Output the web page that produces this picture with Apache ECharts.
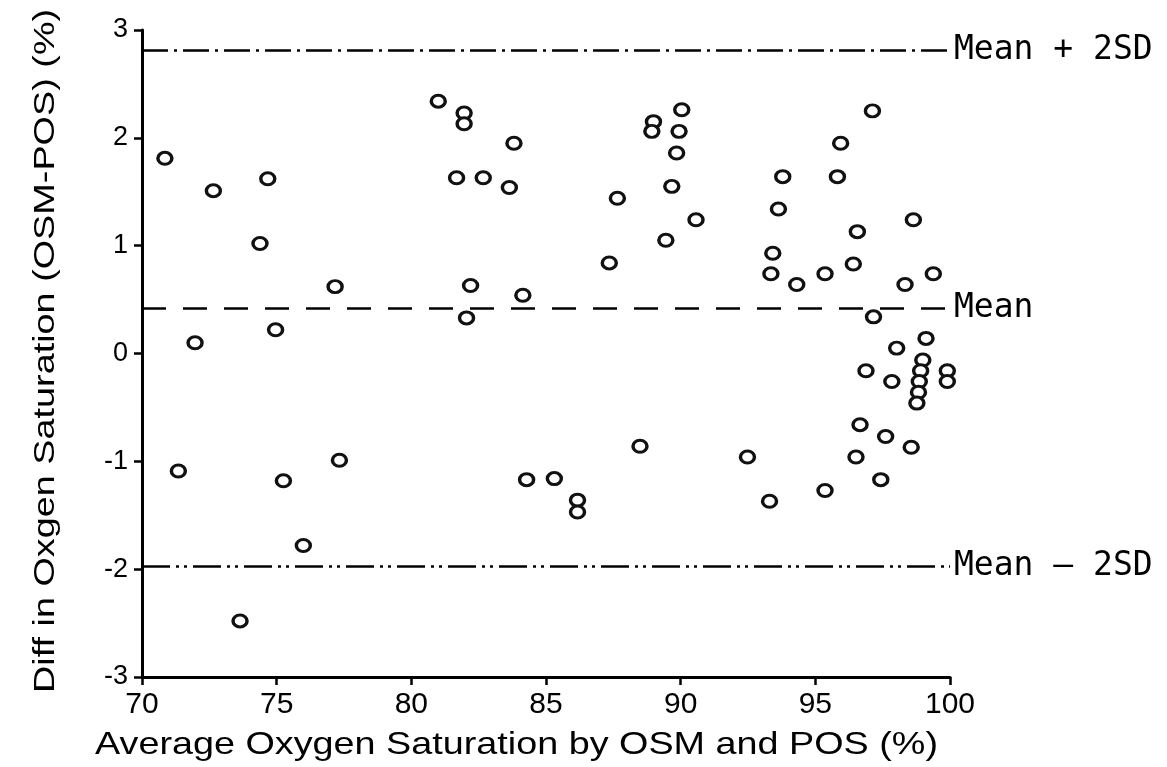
<!DOCTYPE html>
<html>
<head>
<meta charset="utf-8">
<script src="https://cdn.jsdelivr.net/npm/echarts@6/dist/echarts.min.js"></script>
<style>
html,body{margin:0;padding:0;background:#fff;}
#chart{width:1167px;height:767px;}
</style>
</head>
<body>
<div id="chart"></div>
<script>
// Average oxygen saturation (x) and difference OSM-POS (y)
const avgSat = [
  70.85, 72.65, 74.67, 74.38, 77.17, 71.97, 74.96, 71.35, 75.25, 77.33, 75.99, 73.64,
  81.0, 81.96, 81.96, 81.68, 82.67, 83.81, 83.64, 82.2, 82.05, 84.14,
  84.28, 85.31, 86.17, 86.17, 87.35, 87.65, 88.49,
  88.99, 88.93, 90.04, 89.94, 89.85, 89.67, 90.57, 89.45,
  92.48, 93.3, 93.42, 93.35, 93.63, 93.79, 94.31,
  95.36, 95.82, 95.94, 95.36, 96.41, 96.56, 97.12,
  97.16, 96.88, 97.84, 98.02, 96.66, 97.61, 96.51, 97.43, 98.56,
  98.33, 98.64, 99.38, 99.11,
  98.99, 98.91, 98.86, 98.83, 98.77, 99.9, 99.9
];
const diffSat = [
  1.81, 1.51, 1.62, 1.02, 0.62, 0.10, 0.22, -1.09, -1.18, -0.99, -1.78, -2.48,
  2.34, 2.23, 2.13, 1.63, 1.63, 1.95, 1.54, 0.63, 0.33, 0.54,
  -1.17, -1.16, -1.36, -1.47, 0.84, 1.44, -0.86,
  2.15, 2.06, 2.26, 2.06, 1.86, 1.55, 1.24, 1.05,
  -0.96, -1.37, 0.93, 0.74, 1.34, 1.64, 0.64,
  0.74, 1.64, 1.95, -1.27, 0.83, 1.13, 2.25,
  0.34, -0.16, -0.26, 0.05, -0.66, -0.77, -0.96, -1.17, -0.87,
  0.64, 1.24, 0.74, 0.14,
  -0.06, -0.16, -0.26, -0.36, -0.46, -0.16, -0.26
];
const meanDiff = 0.42;
const twoSD = 2.39;
const limitLabels = ['Mean + 2SD', 'Mean', 'Mean \u2013 2SD'];
const xTicks = { min: 70, max: 100, interval: 5 };
const yTicks = { min: -3, max: 3, interval: 1 };
const xTitle = 'Average Oxygen Saturation by OSM and POS (%)';
const yTitle = 'Diff in Oxgen Saturation (OSM-POS) (%)';

const points = avgSat.map((x, i) => [x, diffSat[i]]);
const limits = [meanDiff + twoSD, meanDiff, meanDiff - twoSD];
const dashes = [[26, 6, 3, 6], [24, 17], [28, 6, 3, 5, 3, 6]];

const labelStyle = {
  show: true, position: 'end', distance: 4, color: '#000',
  fontFamily: '"DejaVu Sans Mono", monospace', fontSize: 33
};

const chart = echarts.init(document.getElementById('chart'), null, { renderer: 'canvas' });
chart.setOption({
  animation: false,
  backgroundColor: '#fff',
  grid: { left: 142, right: 217, top: 30, bottom: 90 },
  xAxis: {
    type: 'value', min: xTicks.min, max: xTicks.max, interval: xTicks.interval,
    splitLine: { show: false },
    axisLine: { show: true, onZero: false, lineStyle: { color: '#000', width: 3 } },
    axisTick: { show: true, length: 8, lineStyle: { color: '#000', width: 2.5 } },
    axisLabel: { color: '#000', fontSize: 30, fontFamily: '"Liberation Sans", Arial, sans-serif', margin: 13 }
  },
  yAxis: {
    type: 'value', min: yTicks.min, max: yTicks.max, interval: yTicks.interval,
    splitLine: { show: false },
    axisLine: { show: true, onZero: false, lineStyle: { color: '#000', width: 3 } },
    axisTick: { show: true, length: 8, lineStyle: { color: '#000', width: 2.5 } },
    axisLabel: { color: '#000', fontSize: 27, fontFamily: '"Liberation Sans", Arial, sans-serif', margin: 14 }
  },
  series: [{
    type: 'scatter',
    data: points,
    symbol: 'circle',
    symbolSize: [14, 12],
    itemStyle: { color: '#fff', borderColor: '#111', borderWidth: 3.2, opacity: 1 },
    emphasis: { disabled: true },
    silent: true,
    markLine: {
      silent: true,
      symbol: ['none', 'none'],
      animation: false,
      data: limits.map((v, i) => [
        { coord: [xTicks.min, v], lineStyle: { color: '#000', width: 2.5, type: dashes[i] },
          label: Object.assign({ formatter: limitLabels[i] }, labelStyle) },
        { coord: [xTicks.max, v] }
      ])
    }
  }],
  graphic: [
    {
      type: 'text', x: 95, y: 745, scaleX: 1.18, silent: true,
      style: { text: xTitle, fill: '#000', fontSize: 32, fontFamily: '"Liberation Sans", Arial, sans-serif',
               align: 'left', verticalAlign: 'middle' }
    },
    {
      type: 'text', x: 46, y: 693, rotation: Math.PI / 2, scaleX: 1.26, silent: true,
      style: { text: yTitle, fill: '#000', fontSize: 30, fontFamily: '"Liberation Sans", Arial, sans-serif',
               align: 'left', verticalAlign: 'middle' }
    }
  ]
});
</script>
</body>
</html>
